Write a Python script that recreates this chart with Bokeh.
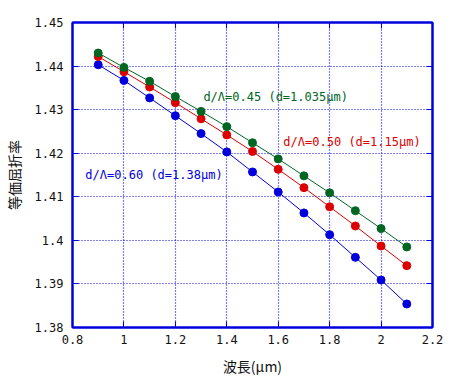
from bokeh.plotting import figure
from bokeh.models import LinearAxis, Range1d, Label, FixedTicker
from bokeh.embed import file_html
from bokeh.resources import INLINE

wavelength = [0.9, 1.0, 1.1, 1.2, 1.3, 1.4, 1.5, 1.6, 1.7, 1.8, 1.9, 2.0, 2.1]
n_045 = [1.4430, 1.4397, 1.4365, 1.4330, 1.4296, 1.4261, 1.4224, 1.4187, 1.4148, 1.4109, 1.4068, 1.4027, 1.3985]
n_050 = [1.4422, 1.4387, 1.4352, 1.4316, 1.4279, 1.4242, 1.4204, 1.4163, 1.4121, 1.4077, 1.4033, 1.3987, 1.3942]
n_060 = [1.4403, 1.4367, 1.4327, 1.4286, 1.4245, 1.4203, 1.4157, 1.4111, 1.4063, 1.4013, 1.3961, 1.3909, 1.3854]
label_045 = "d/Λ=0.45 (d=1.035μm)"
label_050 = "d/Λ=0.50 (d=1.15μm)"
label_060 = "d/Λ=0.60 (d=1.38μm)"
x_ticks = [0.8, 1.0, 1.2, 1.4, 1.6, 1.8, 2.0, 2.2]
y_ticks = [1.38, 1.39, 1.40, 1.41, 1.42, 1.43, 1.44, 1.45]

GREEN = "#006622"
RED = "#dd0000"
BLUE = "#0000dd"
AX = "#0000dd"
MONO = "DejaVu Sans Mono"

p = figure(width=451, height=381, output_backend="svg", toolbar_location=None,
           x_range=Range1d(0.8, 2.2), y_range=Range1d(1.38, 1.45),
           min_border_left=72, min_border_right=19, min_border_top=22, min_border_bottom=54)
p.background_fill_color = "white"
p.border_fill_color = "white"
p.outline_line_color = AX
p.outline_line_width = 2

for ax in [p.xaxis[0], p.yaxis[0]]:
    ax.axis_line_color = AX
    ax.axis_line_width = 2
    ax.major_tick_line_color = AX
    ax.major_tick_in = 6
    ax.major_tick_out = 0
    ax.minor_tick_line_color = None
    ax.major_label_text_font = MONO
    ax.major_label_text_font_size = "12px"
    ax.major_label_text_color = "#111111"
    ax.axis_label_text_font = "Noto Sans CJK JP"
    ax.axis_label_text_font_size = "14px"
    ax.axis_label_text_font_style = "normal"
    ax.axis_label_text_color = "#111111"

p.xaxis[0].ticker = FixedTicker(ticks=x_ticks)
p.yaxis[0].ticker = FixedTicker(ticks=y_ticks)
p.xaxis[0].major_label_overrides = {0.8: "0.8", 1.0: "1", 1.2: "1.2", 1.4: "1.4", 1.6: "1.6", 1.8: "1.8", 2.0: "2", 2.2: "2.2"}
p.yaxis[0].major_label_overrides = {1.38: "1.38", 1.39: "1.39", 1.40: "1.4", 1.41: "1.41", 1.42: "1.42", 1.43: "1.43", 1.44: "1.44", 1.45: "1.45"}
p.xaxis[0].axis_label = "波長(μm)"
p.yaxis[0].axis_label = "等価屈折率"
p.xaxis[0].major_label_standoff = 7
p.yaxis[0].major_label_standoff = 9
p.xaxis[0].axis_label_standoff = 9
p.yaxis[0].axis_label_standoff = 8

for loc, tk in [("right", y_ticks), ("above", x_ticks)]:
    a = LinearAxis(ticker=FixedTicker(ticks=tk), axis_line_color=AX, axis_line_width=2,
                   major_tick_line_color=AX, major_tick_in=6, major_tick_out=0,
                   minor_tick_line_color=None, major_label_standoff=0,
                   major_label_overrides={t: "" for t in tk})
    p.add_layout(a, loc)

p.xgrid.ticker = FixedTicker(ticks=x_ticks)
p.ygrid.ticker = FixedTicker(ticks=y_ticks)
for g in [p.xgrid[0], p.ygrid[0]]:
    g.grid_line_color = AX
    g.grid_line_dash = "1 2"
    g.grid_line_width = 1.2

for ys, c in [(n_060, BLUE), (n_050, RED), (n_045, GREEN)]:
    p.line(wavelength, ys, line_color=c, line_width=1)
    p.scatter(wavelength, ys, size=8, fill_color=c, line_color=c)

for txt, x, y, c in [(label_045, 1.309, 1.4329, GREEN), (label_050, 1.62, 1.4225, RED), (label_060, 0.85, 1.4149, BLUE)]:
    p.add_layout(Label(x=x, y=y, text=txt, text_color=c, text_font=MONO,
                       text_font_size="12px", text_baseline="middle"))

open("out.html", "w").write(file_html(p, INLINE))
